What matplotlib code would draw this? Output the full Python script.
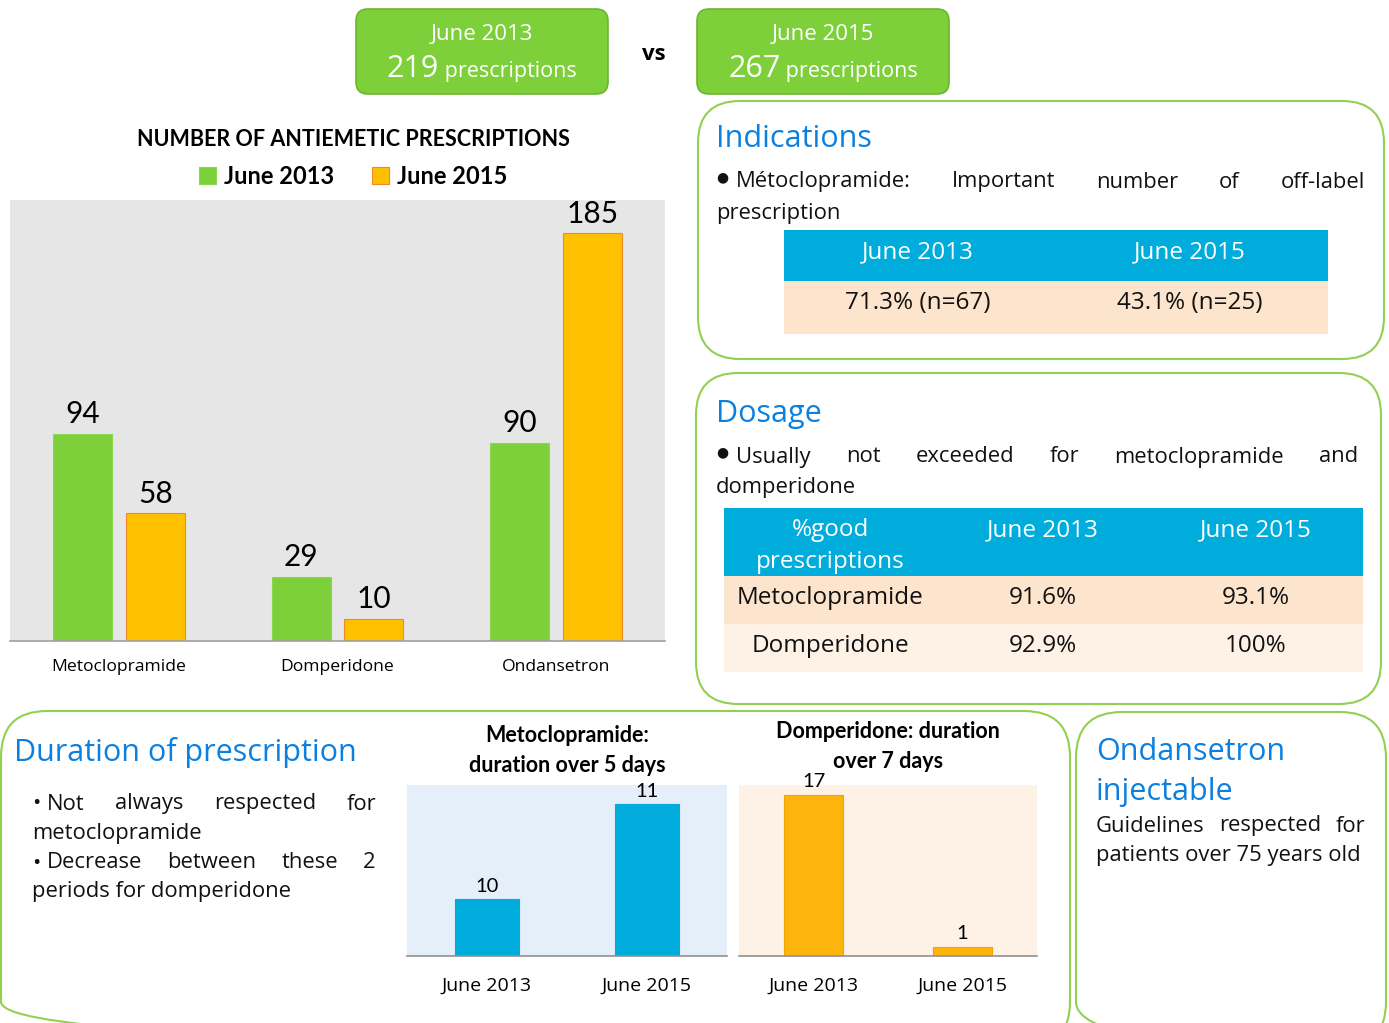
import matplotlib
matplotlib.use('Agg')
import matplotlib.pyplot as plt
from matplotlib.patches import FancyBboxPatch, Rectangle
import numpy as np

W, H = 1389, 1023

# ---- data ----
periods = ['June 2013', 'June 2015']
total_presc = [219, 267]
drugs = ['Metoclopramide', 'Domperidone', 'Ondansetron']
presc_2013 = [94, 29, 90]
presc_2015 = [58, 10, 185]
meto_over5 = [10, 11]
domp_over7 = [17, 1]
offlabel = ['71.3% (n=67)', '43.1% (n=25)']
dose_rows = ['Metoclopramide', 'Domperidone']
dose_2013 = ['91.6%', '92.9%']
dose_2015 = ['93.1%', '100%']

GREEN = '#7ED03B'
ORANGE = '#FFC000'
CYAN = '#00ACDC'
PEACH = '#FDE4CC'
PEACH2 = '#FEF1E6'
BLUE_T = '#0B80E0'
EDGE = '#92D050'
INK = '#111111'
BODY = ['Open Sans', 'DejaVu Sans']
CHART = ['Lato', 'DejaVu Sans']
TXT = 15.8     # body text size
HEAD = 22      # blue panel titles
TAB = 17.5     # table text
DY = 2         # small downward nudge, va=center sits a bit high

fig = plt.figure(figsize=(W / 100, H / 100), dpi=100)
bg = fig.add_axes([0, 0, 1, 1], zorder=0)
bg.set_xlim(0, W)
bg.set_ylim(H, 0)
bg.axis('off')


def rect(x0, y0, x1, y1):
    return [x0 / W, 1 - y1 / H, (x1 - x0) / W, (y1 - y0) / H]


def rbox(x0, y0, x1, y1, r, fc='none', ec=EDGE, lw=1.5):
    p = FancyBboxPatch((x0, y0), x1 - x0, y1 - y0,
                       boxstyle='round,pad=0,rounding_size=%d' % r,
                       fc=fc, ec=ec, lw=lw, clip_on=False)
    bg.add_patch(p)


def justify(words, x0, x1, y, size):
    r = fig.canvas.get_renderer()
    ts = [bg.text(0, y + DY, w, fontsize=size, va='center', family=BODY, color=INK)
          for w in words]
    widths = [t.get_window_extent(r).width for t in ts]
    gap = (x1 - x0 - sum(widths)) / (len(words) - 1)
    x = x0
    for t, w in zip(ts, widths):
        t.set_x(x)
        x += w + gap


def line(x, y, s, size=TXT, **kw):
    kw.setdefault('color', INK)
    bg.text(x, y + DY, s, fontsize=size, va='center', family=BODY, **kw)


def cell(x, y, s, color=INK, size=TAB):
    bg.text(x, y + DY, s, fontsize=size, color=color, ha='center', va='center', family=BODY)


# ---- header boxes ----
r = fig.canvas.get_renderer()
for (x0, x1), per, tot in zip([(356, 608), (697, 949)], periods, total_presc):
    rbox(x0, 9, x1, 94, 12, fc=GREEN, ec='#6DB530', lw=1.2)
    cx = (x0 + x1) / 2
    cell(cx, 32, per, 'white', 16)
    t1 = bg.text(0, 69, str(tot), fontsize=22, color='white', va='center', family=BODY)
    t2 = bg.text(0, 71, ' prescriptions', fontsize=15.5, color='white', va='center', family=BODY)
    w1 = t1.get_window_extent(r).width
    w2 = t2.get_window_extent(r).width
    t1.set_x(cx - (w1 + w2) / 2)
    t2.set_x(cx - (w1 + w2) / 2 + w1)
bg.text(654, 54, 'vs', fontsize=16, ha='center', va='center', family=BODY, weight='bold')

# ---- main bar chart ----
ax = fig.add_axes(rect(10, 200, 665, 641), zorder=2)
ax.set_facecolor('#E6E6E6')
x = np.arange(len(drugs))
b1 = ax.bar(x - 0.167, presc_2013, 0.27, color=GREEN, edgecolor='#8CD650', lw=0.8, label=periods[0])
b2 = ax.bar(x + 0.167, presc_2015, 0.27, color=ORANGE, edgecolor='#EE8A2A', lw=0.8, label=periods[1])
for bars, vals in [(b1, presc_2013), (b2, presc_2015)]:
    for b, v in zip(bars, vals):
        ax.annotate(str(v), (b.get_x() + b.get_width() / 2, v), xytext=(0, 4),
                    textcoords='offset points', ha='center', va='bottom',
                    fontsize=21.5, family=CHART)
ax.set_xlim(-0.5, 2.5)
ax.set_ylim(0, 200)
ax.set_yticks([])
ax.set_xticks(x)
ax.set_xticklabels(drugs, fontsize=12.6, family=BODY)
ax.tick_params(axis='x', length=0, pad=13)
for s in ['top', 'left', 'right']:
    ax.spines[s].set_visible(False)
ax.spines['bottom'].set_color('#A0A0A0')
ax.spines['bottom'].set_linewidth(1.2)
ax.text(0.524, 1 + 60 / 441, 'NUMBER OF ANTIEMETIC PRESCRIPTIONS', transform=ax.transAxes,
        ha='center', va='center', fontsize=15.5, weight='bold', family=CHART)
leg = ax.legend(ncol=2, loc='center', bbox_to_anchor=(0.524, 1 + 24 / 441), frameon=False,
                handlelength=0.7, handleheight=0.7, handletextpad=0.35, columnspacing=1.6,
                prop={'family': CHART, 'weight': 'bold', 'size': 17})

# ---- Indications panel ----
rbox(698, 101, 1384, 359, 42)
line(716, 137, 'Indications', HEAD, color=BLUE_T)
line(716, 176, '\u25CF', 10)
justify(['Métoclopramide:', 'Important', 'number', 'of', 'off-label'], 736, 1365, 180, TXT)
line(716, 211, 'prescription')
bg.add_patch(Rectangle((784, 230), 1328 - 784, 51, fc=CYAN, ec='none'))
bg.add_patch(Rectangle((784, 281), 1328 - 784, 53, fc=PEACH, ec='none'))
for cx, per, val in zip([918, 1190], periods, offlabel):
    cell(cx, 250, per, 'white')
    cell(cx, 301, val)

# ---- Dosage panel ----
rbox(696, 373, 1381, 704, 42)
line(716, 412, 'Dosage', HEAD, color=BLUE_T)
line(716, 451, '\u25CF', 10)
justify(['Usually', 'not', 'exceeded', 'for', 'metoclopramide', 'and'], 736, 1358, 455, TXT)
line(716, 486, 'domperidone')
bg.add_patch(Rectangle((724, 508), 1363 - 724, 68, fc=CYAN, ec='none'))
bg.add_patch(Rectangle((724, 576), 1363 - 724, 48, fc=PEACH, ec='none'))
bg.add_patch(Rectangle((724, 624), 1363 - 724, 48, fc=PEACH2, ec='none'))
cell(830, 528, '%good', 'white')
cell(830, 560, 'prescriptions', 'white')
for cx, per in zip([1043, 1256], periods):
    cell(cx, 528, per, 'white')
for yy, name, v13, v15 in zip([596, 644], dose_rows, dose_2013, dose_2015):
    cell(830, yy, name)
    cell(1043, yy, v13)
    cell(1256, yy, v15)

# ---- Duration panel ----
rbox(1, 711, 1070, 1048, 46)
line(14, 750, 'Duration of prescription', HEAD, color=BLUE_T)
line(32, 802, '\u2022', TXT)
justify(['Not', 'always', 'respected', 'for'], 47, 376, 802, TXT)
line(32, 831, 'metoclopramide')
line(32, 861, '\u2022', TXT)
justify(['Decrease', 'between', 'these', '2'], 47, 376, 861, TXT)
line(32, 890, 'periods for domperidone')


def small_chart(box, vals, color, ec, face, ylim, title, title_y):
    a = fig.add_axes(rect(*box), zorder=2)
    a.set_facecolor(face)
    xx = np.arange(len(vals))
    bars = a.bar(xx, vals, 0.4, color=color, edgecolor=ec, lw=0.8)
    for b, v in zip(bars, vals):
        a.annotate(str(v), (b.get_x() + b.get_width() / 2, v), xytext=(0, 3),
                   textcoords='offset points', ha='center', va='bottom',
                   fontsize=14.5, family=CHART)
    a.set_xlim(-0.5, len(vals) - 0.5)
    a.set_ylim(*ylim)
    a.set_yticks([])
    a.set_xticks(xx)
    a.set_xticklabels(periods, fontsize=14, family=BODY)
    a.tick_params(axis='x', length=0, pad=15)
    for s in ['top', 'left', 'right']:
        a.spines[s].set_visible(False)
    a.spines['bottom'].set_color('#909090')
    a.spines['bottom'].set_linewidth(1.2)
    cx = (box[0] + box[2]) / 2
    for i, t in enumerate(title):
        bg.text(cx, title_y[i] + 1, t, fontsize=15.5, weight='bold', ha='center', va='center',
                family=CHART)
    return a


small_chart((407, 785, 727, 956), meto_over5, CYAN, CYAN, '#E4EFF9', (9.4, 11.2),
            ['Metoclopramide:', 'duration over 5 days'], [735, 765])
small_chart((739, 785, 1037, 956), domp_over7, '#FDB50E', '#F2A500', '#FEF1E6', (0, 18),
            ['Domperidone: duration', 'over 7 days'], [731, 760])

# ---- Ondansetron panel ----
rbox(1076, 712, 1386, 1048, 46)
line(1096, 750, 'Ondansetron', HEAD, color=BLUE_T)
line(1096, 790, 'injectable', HEAD, color=BLUE_T)
justify(['Guidelines', 'respected', 'for'], 1096, 1365, 824, TXT)
line(1096, 853, 'patients over 75 years old')

fig.savefig('out.png', dpi=100)
